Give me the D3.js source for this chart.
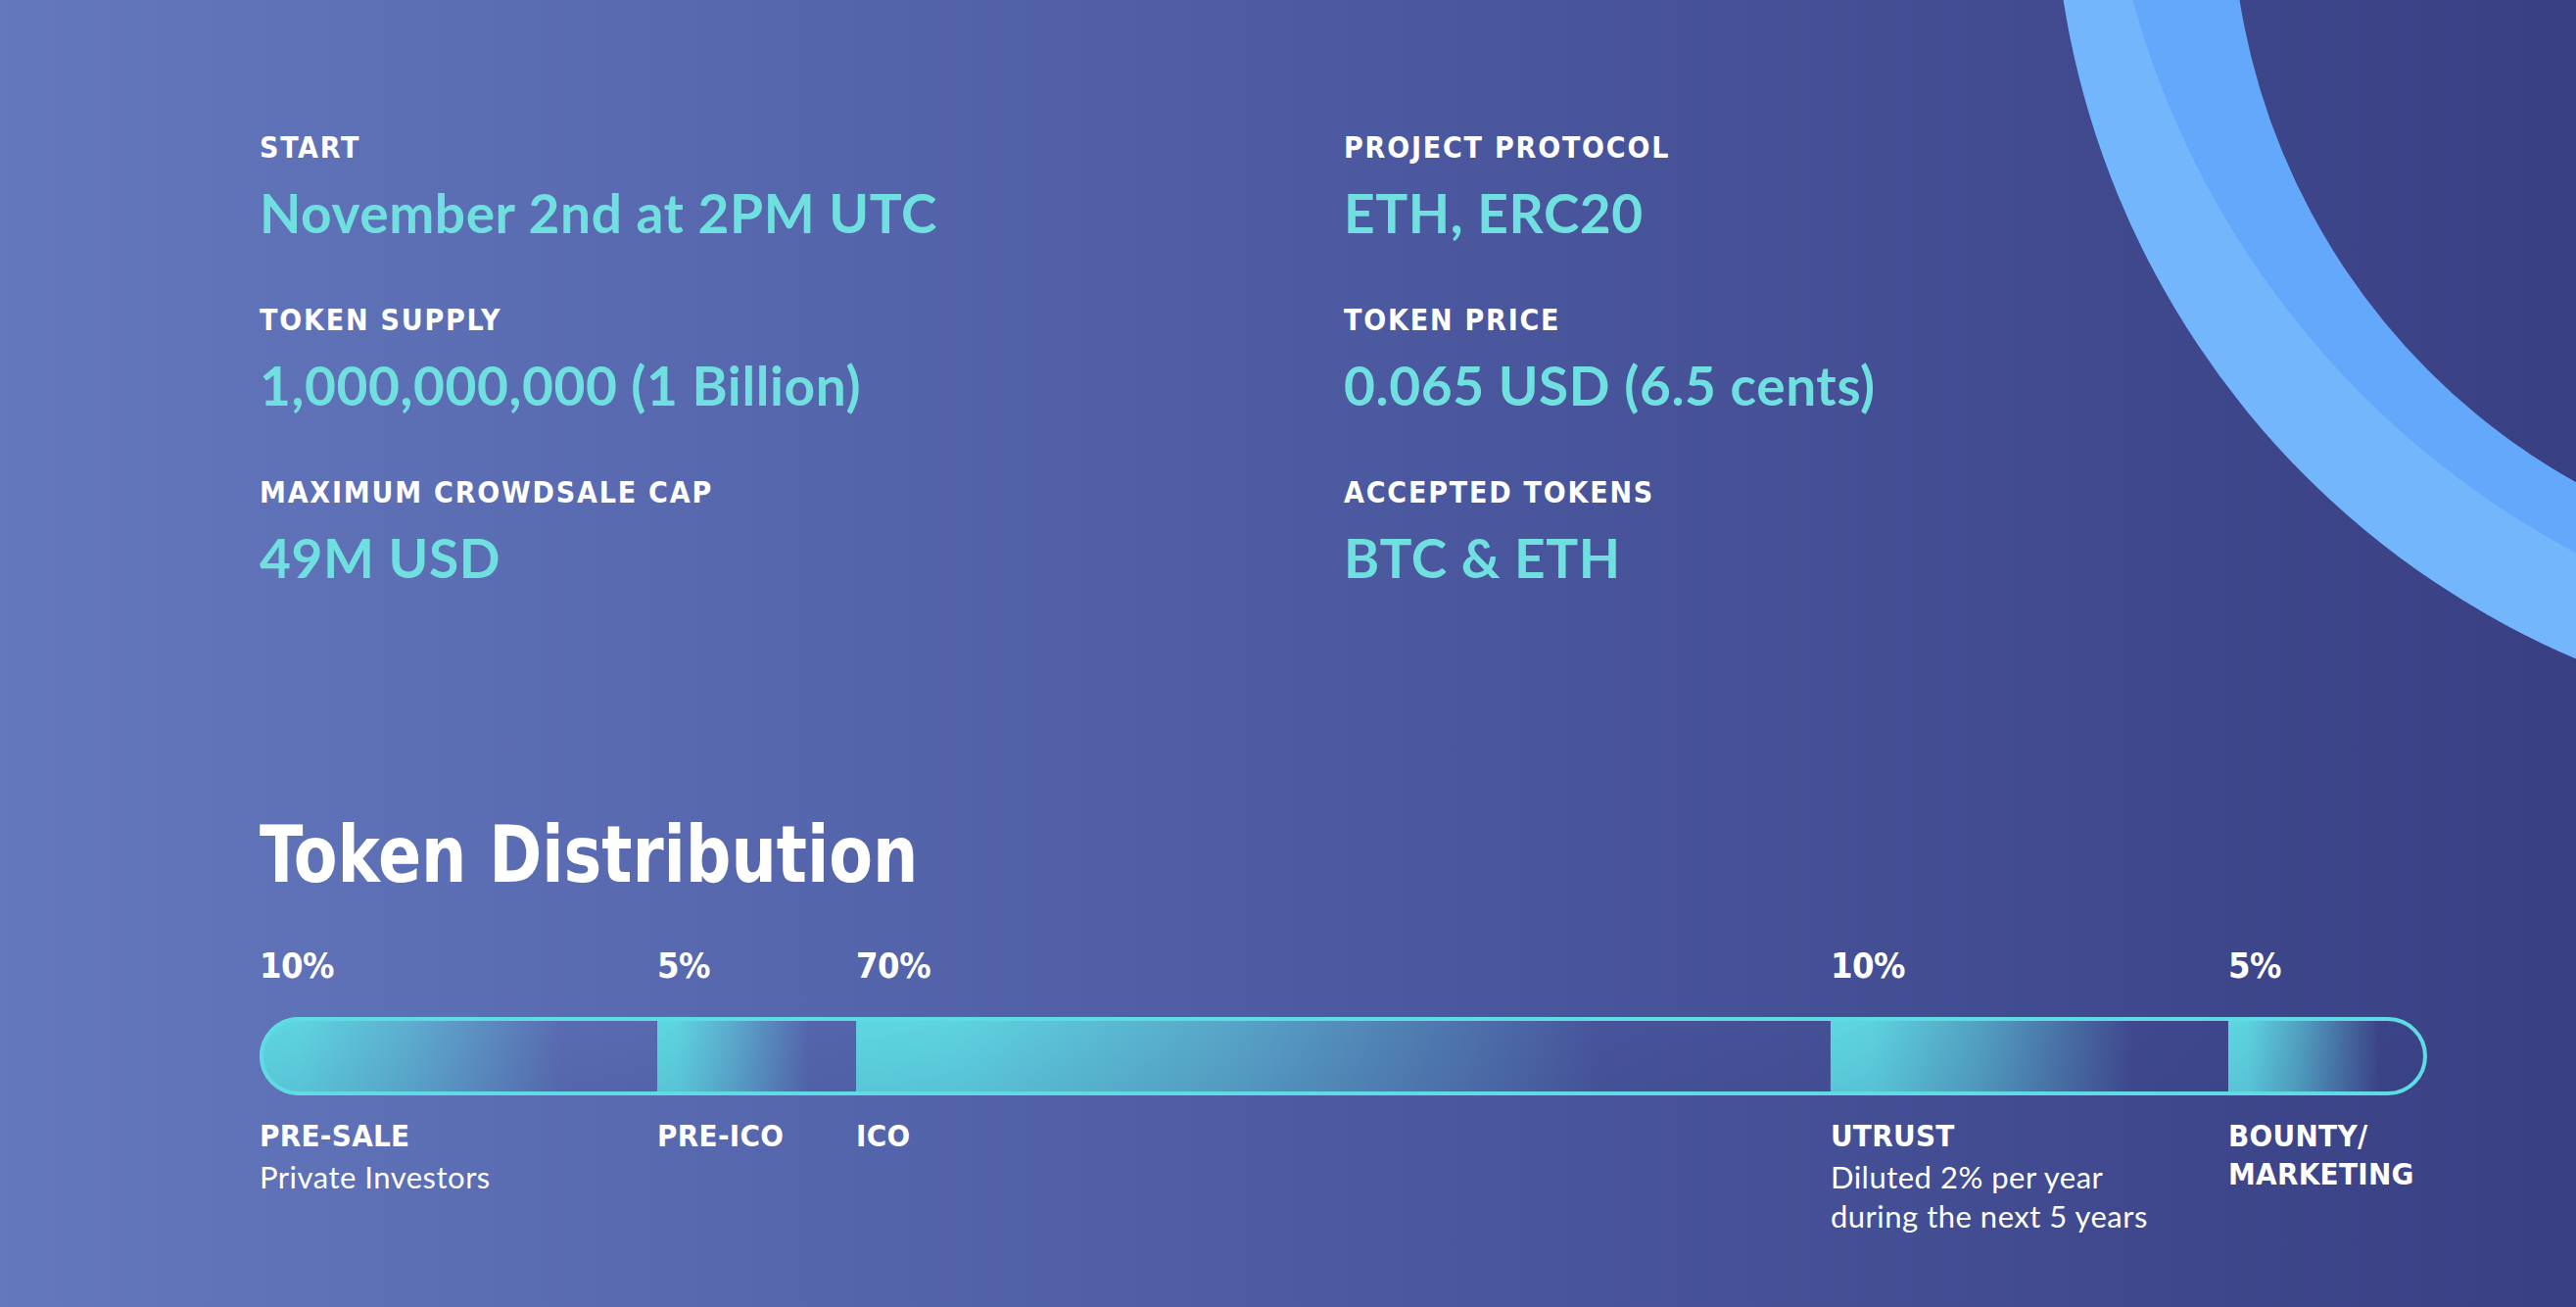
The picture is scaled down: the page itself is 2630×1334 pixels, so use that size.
<!DOCTYPE html>
<html>
<head>
<meta charset="utf-8">
<script src="https://cdn.jsdelivr.net/npm/d3@7"></script>
<style>
  html, body { margin: 0; padding: 0; overflow: hidden; background: #4d5aa1; }
  svg { display: block; }
</style>
</head>
<body>
<div id="chart"></div>
<script>
// ---------- DATA ----------
const infoLabels = ["START", "TOKEN SUPPLY", "MAXIMUM CROWDSALE CAP",
                    "PROJECT PROTOCOL", "TOKEN PRICE", "ACCEPTED TOKENS"];
const infoValues = ["November 2nd at 2PM UTC", "1,000,000,000 (1 Billion)", "49M USD",
                    "ETH, ERC20", "0.065 USD (6.5 cents)", "BTC & ETH"];
const chartTitle = "Token Distribution";
const categories = [["PRE-SALE"], ["PRE-ICO"], ["ICO"], ["UTRUST"], ["BOUNTY/", "MARKETING"]];
const shares = [10, 5, 70, 10, 5];
const notes = [["Private Investors"], [], [], ["Diluted 2% per year", "during the next 5 years"], []];

// ---------- LAYOUT ----------
const W = 2630, H = 1334;
const svg = d3.select("#chart").append("svg").attr("width", W).attr("height", H);
const defs = svg.append("defs");

const bg = defs.append("linearGradient").attr("id", "bg")
  .attr("gradientUnits", "userSpaceOnUse")
  .attr("x1", 0).attr("y1", 0).attr("x2", W).attr("y2", 0);
bg.append("stop").attr("offset", 0).attr("stop-color", "#6478bd");
bg.append("stop").attr("offset", 0.5).attr("stop-color", "#4d5ba2");
bg.append("stop").attr("offset", 1).attr("stop-color", "#393f83");

svg.append("rect").attr("width", W).attr("height", H).attr("fill", "url(#bg)");

// decorative arcs top-right
const deco = svg.append("g");
deco.append("circle").attr("cx", 2975).attr("cy", -136).attr("r", 879).attr("fill", "#74b6fc");
deco.append("circle").attr("cx", 3056).attr("cy", -241).attr("r", 911).attr("fill", "#63a8fa");
deco.append("circle").attr("cx", 2966).attr("cy", -108).attr("r", 688).attr("fill", "url(#bg)");

const cyan = "#6fe0df";
const labelFont = "'DejaVu Sans Condensed', 'DejaVu Sans', sans-serif";
const valueFont = "'Lato', 'Open Sans', sans-serif";

// info grid
const colX = [265, 1372];
const labelBase = [161, 337, 513];
const valueBase = [238, 414, 590];
infoLabels.forEach((lab, i) => {
  const c = Math.floor(i / 3), r = i % 3;
  svg.append("text").attr("x", colX[c]).attr("y", labelBase[r])
    .attr("font-family", labelFont).attr("font-weight", 700).attr("font-size", 30)
    .attr("letter-spacing", 1.8).attr("fill", "#ffffff").text(lab);
  svg.append("text").attr("x", colX[c]).attr("y", valueBase[r])
    .attr("font-family", valueFont).attr("font-weight", 700).attr("font-size", 55)
    .attr("letter-spacing", 0.6).attr("fill", cyan).text(infoValues[i]);
});

// title
svg.append("text").attr("transform", "translate(265,900) scale(0.905,1)")
  .attr("font-family", labelFont).attr("font-weight", 700).attr("font-size", 80)
  .attr("fill", "#ffffff").text(chartTitle);

// ---------- BAR ----------
const displayUnits = d3.scaleLinear().domain([0, 10, 70]).range([0, 2, 4.9]);
const units = shares.map(d => displayUnits(d));
const starts = d3.cumsum([0].concat(units)).slice(0, units.length);
const total = d3.sum(units);
const x = d3.scaleLinear().domain([0, total]).range([265, 2478]);
const barTop = 1038, barH = 80;

const clip = defs.append("clipPath").attr("id", "pill");
clip.append("rect").attr("x", x(0)).attr("y", barTop).attr("width", x(total) - x(0))
  .attr("height", barH).attr("rx", barH / 2);

const sg = defs.append("linearGradient").attr("id", "seg")
  .attr("x1", 0).attr("y1", 0).attr("x2", 1).attr("y2", 0);
[[0, 1], [0.1, 0.97], [0.38, 0.6], [0.58, 0.28], [0.76, 0]].forEach(([o, a]) =>
  sg.append("stop").attr("offset", o).attr("stop-color", "#5ed8e2").attr("stop-opacity", a));
const vg = defs.append("linearGradient").attr("id", "shade")
  .attr("x1", 0).attr("y1", 0).attr("x2", 0).attr("y2", 1);
vg.append("stop").attr("offset", 0).attr("stop-color", "#2c3a80").attr("stop-opacity", 0);
vg.append("stop").attr("offset", 1).attr("stop-color", "#2c3a80").attr("stop-opacity", 0.12);

const barG = svg.append("g").attr("clip-path", "url(#pill)");
barG.selectAll("rect.seg").data(shares).join("rect").attr("class", "seg")
  .attr("x", (d, i) => x(starts[i])).attr("y", barTop)
  .attr("width", (d, i) => x(starts[i] + units[i]) - x(starts[i]))
  .attr("height", barH).attr("fill", "url(#seg)");
barG.append("rect").attr("x", x(0)).attr("y", barTop).attr("width", x(total) - x(0))
  .attr("height", barH).attr("fill", "url(#shade)");

svg.append("rect").attr("x", x(0) + 2).attr("y", barTop + 2)
  .attr("width", x(total) - x(0) - 4).attr("height", barH - 4).attr("rx", (barH - 4) / 2)
  .attr("fill", "none").attr("stroke", "#5fdce3").attr("stroke-width", 4);

// percent labels
svg.selectAll("text.pct").data(shares).join("text").attr("class", "pct")
  .attr("x", (d, i) => x(starts[i])).attr("y", 998)
  .attr("font-family", labelFont).attr("font-weight", 700).attr("font-size", 36)
  .attr("letter-spacing", -0.5).attr("fill", "#ffffff").text(d => d + "%");

// category names
categories.forEach((lines, i) => {
  lines.forEach((ln, j) => {
    svg.append("text").attr("x", x(starts[i])).attr("y", 1170 + j * 39)
      .attr("font-family", labelFont).attr("font-weight", 700).attr("font-size", 31)
      .attr("letter-spacing", 0.3).attr("fill", "#ffffff").text(ln);
  });
  notes[i].forEach((ln, j) => {
    svg.append("text").attr("x", x(starts[i])).attr("y", 1213 + j * 40)
      .attr("font-family", valueFont).attr("font-weight", 400).attr("font-size", 31)
      .attr("letter-spacing", 0.5).attr("fill", "#ffffff").text(ln);
  });
});
</script>
</body>
</html>
